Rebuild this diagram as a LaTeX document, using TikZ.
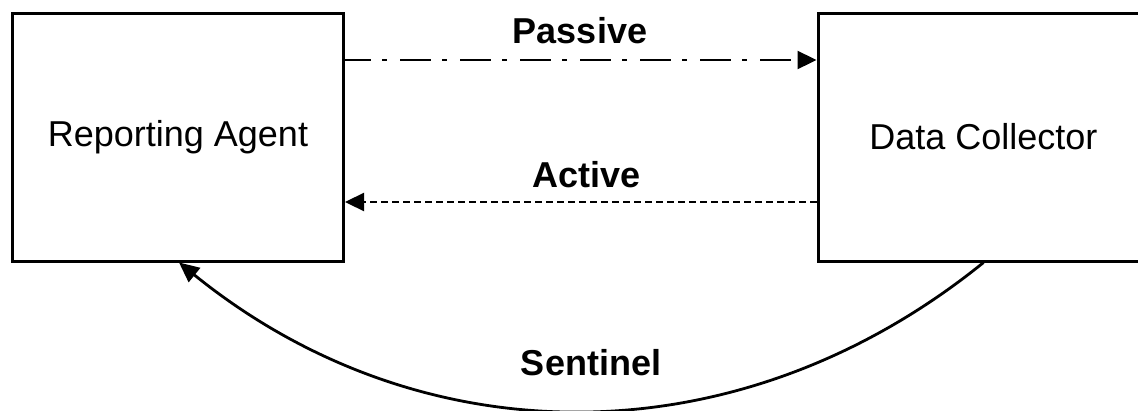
\documentclass[tikz,border=0pt]{standalone}
\usepackage{fontspec}
\setmainfont{Liberation Sans}
\usetikzlibrary{arrows.meta}
\begin{document}
\begin{tikzpicture}[x=1pt,y=-1pt,
  box/.style={draw, line width=3pt, minimum width=331pt, minimum height=248pt, inner sep=0pt,
    font=\fontsize{36}{43}\selectfont},
  lbl/.style={anchor=base, inner sep=0pt, font=\fontsize{36}{43}\selectfont\bfseries},
  conn/.style={line width=2.3pt, -{Triangle[length=19pt,width=18pt]}}
]
\useasboundingbox (0,0) rectangle (1138,410);
\node[box] (ra) at (178,137) {Reporting Agent};
\node[box] (dc) at (983.5,137) {Data Collector};
\draw[conn, dash pattern=on 31pt off 11pt on 5pt off 13pt, dash phase=5pt]
  ([yshift=77pt]ra.east) -- ([yshift=77pt]dc.west);
\draw[conn, dash pattern=on 7pt off 4pt]
  ([yshift=-65pt]dc.west) -- ([yshift=-65pt]ra.east);
\draw[line width=2.8pt, -{Triangle[length=20pt,width=18pt]}]
  (dc.south) to[bend left=39] ([xshift=1pt]ra.south);
\node[lbl] (lp) at (580,43) {Passive};
\node[lbl] (la) at (587,187) {Active};
\node[lbl] (ls) at (591,375) {Sentinel};
\end{tikzpicture}
\end{document}
